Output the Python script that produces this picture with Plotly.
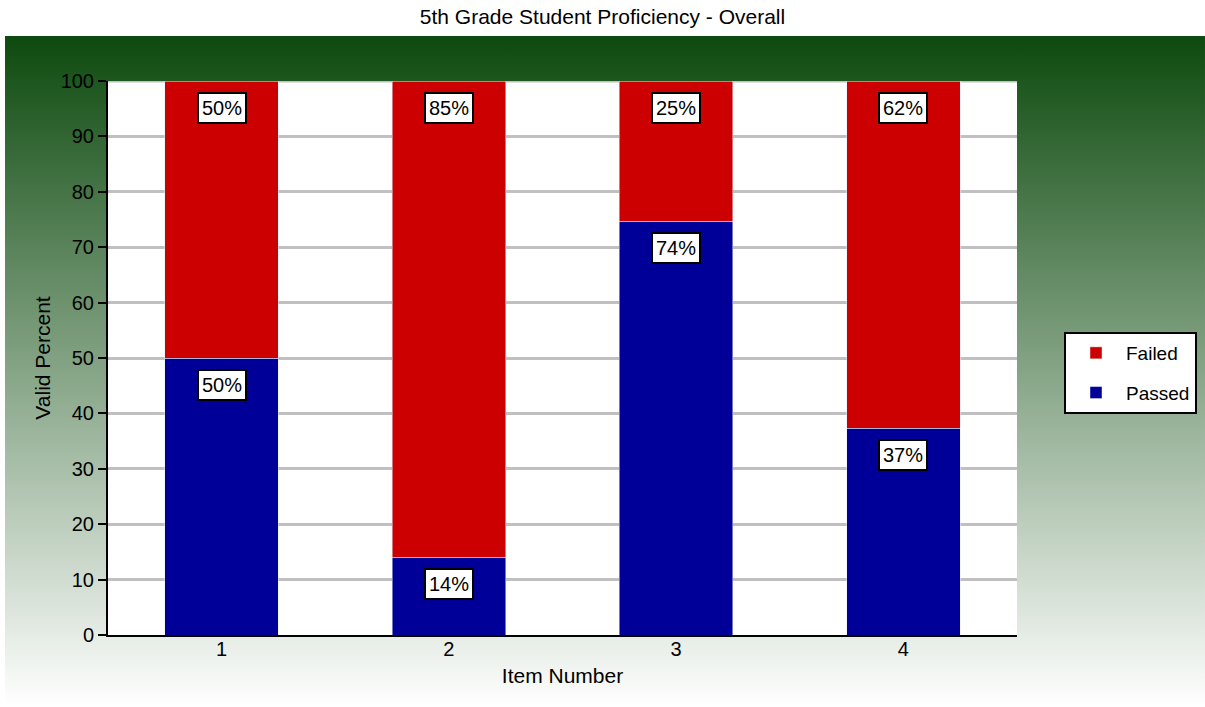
"""Stacked proficiency chart with Plotly."""

import base64

import plotly.graph_objects as go

# Data
items = ["1", "2", "3", "4"]
passed = [50.0, 14.0, 74.7, 37.3]
failed = [50.0, 86.0, 25.3, 62.7]
passed_labels = ["50%", "14%", "74%", "37%"]
failed_labels = ["50%", "85%", "25%", "62%"]

RED = "#cc0000"
BLUE = "#000099"
GRID = "#c0c0c0"
FONT = "Liberation Sans, Arial, sans-serif"

# green-to-white gradient panel behind the plot
svg = (
    '<svg xmlns="http://www.w3.org/2000/svg" width="100" height="100" '
    'viewBox="0 0 100 100" preserveAspectRatio="none">'
    '<defs><linearGradient id="g" x1="0" y1="0" x2="0" y2="1">'
    '<stop offset="0" stop-color="#0d4a0e"/>'
    '<stop offset="1" stop-color="#ffffff"/>'
    "</linearGradient></defs>"
    '<rect width="100" height="100" fill="url(#g)"/></svg>'
)
bg_src = "data:image/svg+xml;base64," + base64.b64encode(svg.encode()).decode()

fig = go.Figure()

fig.add_trace(
    go.Bar(
        x=items, y=passed, name="Passed", marker_color=BLUE, width=0.5,
        legendgroup="p", legendrank=2,
    )
)
fig.add_trace(
    go.Bar(
        x=items, y=failed, name="Failed", marker_color=RED, width=0.5,
        legendgroup="f", legendrank=1,
    )
)

# Value labels in boxed annotations near the top of each segment
for i in range(len(items)):
    for top, text in (
        (passed[i], passed_labels[i]),
        (passed[i] + failed[i], failed_labels[i]),
    ):
        fig.add_annotation(
            x=i,
            y=top,
            text=text,
            showarrow=False,
            yanchor="top",
            yshift=-11,
            font=dict(family=FONT, size=20, color="black"),
            bgcolor="white",
            bordercolor="black",
            borderwidth=2,
            borderpad=3,
        )

fig.add_layout_image(
    source=bg_src,
    xref="paper",
    yref="paper",
    x=-0.1133,
    y=1.0812,
    sizex=1.3201,
    sizey=1.2112,
    xanchor="left",
    yanchor="top",
    sizing="stretch",
    layer="below",
)

# white plot area over the gradient, and the grey line along the top
fig.add_shape(
    type="rect", xref="paper", yref="paper", x0=0, x1=1, y0=0, y1=1,
    fillcolor="white", line_width=0, layer="below",
)
fig.add_shape(
    type="line", xref="paper", yref="y", x0=0, x1=1, y0=100, y1=100,
    line=dict(color=GRID, width=3), layer="below",
)

fig.update_layout(
    width=1205,
    height=707,
    margin=dict(l=108, r=188, t=81, b=72),
    barmode="stack",
    paper_bgcolor="white",
    plot_bgcolor="rgba(0,0,0,0)",
    font=dict(family=FONT, size=20, color="black"),
    title=dict(
        text="5th Grade Student Proficiency - Overall",
        x=0.5,
        xanchor="center",
        y=1 - 17 / 707,
        yanchor="middle",
        font=dict(size=21, color="black"),
    ),
    legend=dict(
        xref="container",
        yref="container",
        x=1064 / 1205,
        y=1 - 332 / 707,
        xanchor="left",
        yanchor="top",
        traceorder="grouped",
        tracegroupgap=12,
        itemwidth=50,
        bgcolor="white",
        bordercolor="black",
        borderwidth=2,
        font=dict(size=19, color="black"),
    ),
    showlegend=True,
)

fig.update_xaxes(
    type="category",
    title_text="Item Number",
    title_standoff=9,
    title_font=dict(family=FONT, size=21, color="black"),
    showline=True,
    linecolor="black",
    linewidth=2,
    ticks="",
    ticklabelstandoff=-5,
    showgrid=False,
    range=[-0.5, 3.5],
)
fig.update_yaxes(
    title_text="Valid Percent",
    title_standoff=4,
    title_font=dict(family=FONT, size=21, color="black"),
    range=[0, 100],
    dtick=10,
    showline=True,
    linecolor="black",
    linewidth=2,
    ticks="outside",
    ticklen=8,
    tickwidth=2,
    tickcolor="black",
    showgrid=True,
    gridcolor=GRID,
    gridwidth=3,
    zeroline=False,
)

fig.write_html(
    "out.html",
    config={"displayModeBar": False},
    post_script="document.body.style.margin='0';",
)
